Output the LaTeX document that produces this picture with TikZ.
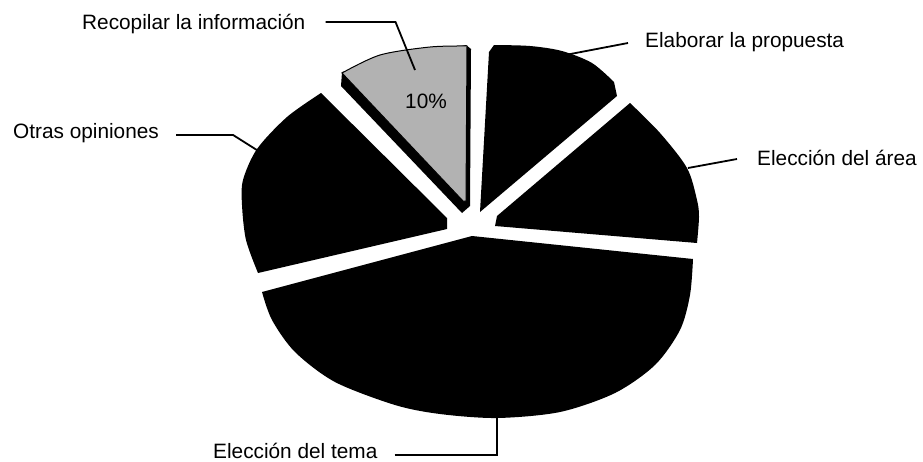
\documentclass[tikz,border=0pt]{standalone}
\usepackage{fontspec}
\setmainfont{Liberation Sans}
\begin{document}
\begin{tikzpicture}[x=1pt,y=-1pt,
  lbl/.style={font=\fontsize{20.8}{25}\selectfont, inner sep=0pt, anchor=base west},
  leader/.style={line width=1.8pt},
  slice/.style={fill=black}]
\useasboundingbox (0,0) rectangle (923,461);
\fill[slice] (447,218) -- plot[smooth] coordinates {(321,93) (287,117) (257,149) (243,180) (242,205) (246,240) (258,273)} -- (447,229) -- cycle;
\fill[slice] (342,72) -- (341,86) -- (462,213) -- (470,206) -- (471,49) -- (466,45) -- cycle;
\filldraw[fill=black!30, draw=black, line width=1pt] (463,201) -- plot[smooth] coordinates {(342,73) (380,55) (430,47) (467,46)} -- (466,201) -- cycle;
\fill[slice] (480,212) -- (489,52) -- plot[smooth] coordinates {(494,45) (530,46) (562,51) (592,63) (614,82)} -- (617,96) -- cycle;
\fill[slice] (497,216) -- plot[smooth] coordinates {(630,103) (660,133) (687,168) (697,200) (699,217) (697,243)} -- (495,226) -- cycle;
\fill[slice] (472,236) -- plot[smooth] coordinates {(693,259) (690,295) (680,330) (655,365) (615,393) (560,412) (497,418) (440,414) (395,405) (335,382) (295,352) (272,320) (262,292)} -- cycle;
\node[lbl] (pct) at (405,108) {10\%};
\node[lbl] (rec) at (82,29) {Recopilar la información};
\coordinate (recP) at (415,70);
\draw[leader] (rec.base east) ++(20,-7) -- ++(70,0) -- (recP);
\node[lbl] (elab) at (645,47) {Elaborar la propuesta};
\coordinate (elabP) at (560,56);
\draw[leader] (elab.base west) ++(-17,-4) -- (elabP);
\node[lbl] (otras) at (13,138) {Otras opiniones};
\coordinate (otrasP) at (260,152);
\draw[leader] (otras.base east) ++(17,-3) -- ++(57,0) -- (otrasP);
\node[lbl] (area) at (757,165) {Elección del área};
\coordinate (areaP) at (688,168);
\draw[leader] (area.base west) ++(-20,-6) -- (areaP);
\node[lbl] (tema) at (213,458) {Elección del tema};
\coordinate (temaP) at (497,416);
\draw[leader] (tema.base east) ++(17,-3) -| (temaP);
\end{tikzpicture}
\end{document}
